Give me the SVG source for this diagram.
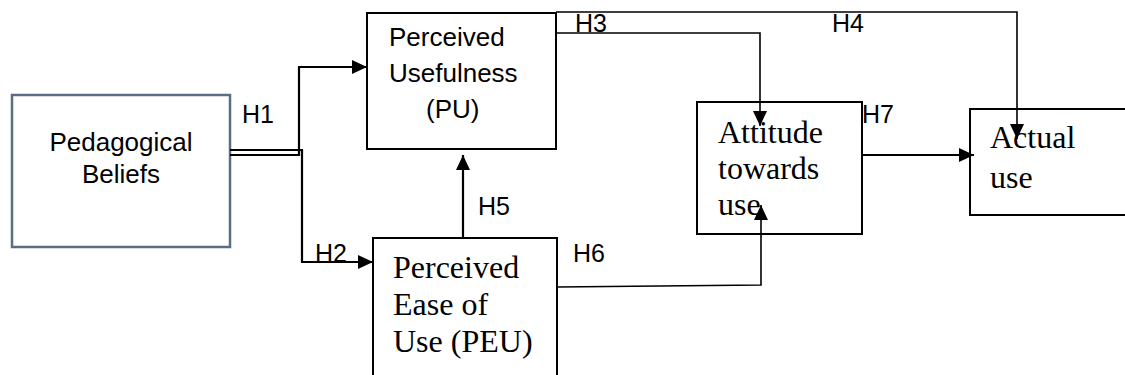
<svg xmlns="http://www.w3.org/2000/svg" width="1125" height="375" viewBox="0 0 1125 375">
  <style>
    .box { fill: #ffffff; stroke: #000000; stroke-width: 2; }
    .pbox { fill: #ffffff; stroke: #5b6d84; stroke-width: 2.5; }
    .sans { font-family: "Liberation Sans", Arial, sans-serif; font-size: 26px; fill: #000; }
    .serif { font-family: "Liberation Serif", "Times New Roman", serif; font-size: 32px; fill: #000; }
    .lbl { font-family: "Liberation Sans", Arial, sans-serif; font-size: 25px; fill: #000; }
    .conn { fill: none; stroke: #000; stroke-width: 2.2; }
    .thin { fill: none; stroke: #000; stroke-width: 1.6; }
  </style>
  <defs>
    <marker id="arr" markerUnits="userSpaceOnUse" markerWidth="16" markerHeight="16" viewBox="0 0 16 16" refX="15" refY="8" orient="auto">
      <path d="M0,1 L15,8 L0,15 Z" fill="#000"/>
    </marker>
  </defs>
  <rect width="1125" height="375" fill="#ffffff"/>

  <g id="pedagogical-beliefs">
    <rect class="pbox" x="12" y="95" width="218" height="152"/>
    <text class="sans" x="121" y="151" text-anchor="middle">Pedagogical</text>
    <text class="sans" x="121" y="183" text-anchor="middle">Beliefs</text>
  </g>

  <g id="perceived-usefulness">
    <rect class="box" x="367" y="13" width="189" height="136"/>
    <text class="sans" x="389" y="46">Perceived</text>
    <text class="sans" x="389" y="82">Usefulness</text>
    <text class="sans" x="426" y="118">(PU)</text>
  </g>

  <g id="perceived-ease-of-use">
    <rect class="box" x="373" y="238" width="184" height="150"/>
    <text class="serif" x="393" y="278">Perceived</text>
    <text class="serif" x="393" y="315">Ease of</text>
    <text class="serif" x="393" y="352">Use (PEU)</text>
  </g>

  <g id="attitude-towards-use">
    <rect class="box" x="697" y="102" width="165" height="132"/>
    <text class="serif" x="718" y="143">Attitude</text>
    <text class="serif" x="718" y="179">towards</text>
    <text class="serif" x="718" y="215">use</text>
  </g>

  <g id="actual-use">
    <rect class="box" x="970" y="109" width="160" height="106"/>
    <text class="serif" x="990" y="148">Actual</text>
    <text class="serif" x="990" y="188">use</text>
  </g>

  <g id="connectors">
    <path class="conn" d="M230,155 H299 V67 H367" marker-end="url(#arr)"/>
    <path class="conn" d="M230,150 H302 V262 H373" marker-end="url(#arr)"/>
    <path class="thin" d="M556,33 H760 V126" marker-end="url(#arr)"/>
    <path class="thin" d="M556,12 H1017 V139" marker-end="url(#arr)"/>
    <path class="conn" d="M463,238 V155" marker-end="url(#arr)"/>
    <path class="thin" d="M557,287 L761,285 V205" marker-end="url(#arr)"/>
    <path class="conn" d="M862,155 H974" marker-end="url(#arr)"/>
  </g>

  <g id="labels">
    <text class="lbl" x="242" y="123">H1</text>
    <text class="lbl" x="315" y="262">H2</text>
    <text class="lbl" x="575" y="32">H3</text>
    <text class="lbl" x="832" y="32">H4</text>
    <text class="lbl" x="478" y="215">H5</text>
    <text class="lbl" x="573" y="262">H6</text>
    <text class="lbl" x="862" y="123">H7</text>
  </g>
</svg>
